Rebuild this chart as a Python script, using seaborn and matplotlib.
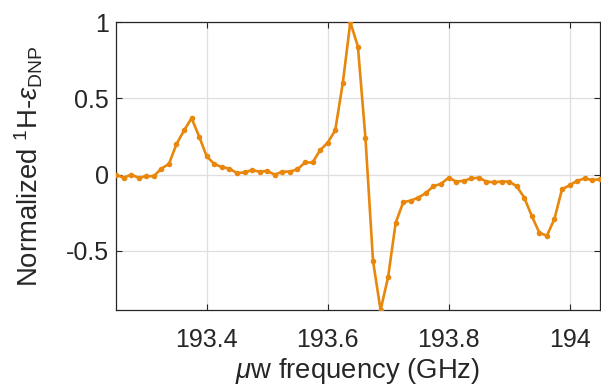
import numpy as np
import pandas as pd
import matplotlib
matplotlib.use("Agg")
import matplotlib.pyplot as plt
import seaborn as sns

freq_start = 193.25
freq_step = 0.0125
dnp = [0.0, -0.02, 0.0, -0.02, -0.01, -0.01, 0.04, 0.07, 0.20, 0.29,
       0.37, 0.25, 0.12, 0.07, 0.05, 0.04, 0.01, 0.015, 0.03, 0.02,
       0.025, 0.0, 0.02, 0.02, 0.035, 0.08, 0.08, 0.16, 0.21, 0.29,
       0.60, 1.0, 0.84, 0.24, -0.565, -0.887, -0.67, -0.315, -0.18, -0.17,
       -0.15, -0.12, -0.075, -0.06, -0.02, -0.045, -0.04, -0.025, -0.02, -0.045,
       -0.05, -0.045, -0.045, -0.075, -0.15, -0.27, -0.38, -0.40, -0.29, -0.095,
       -0.07, -0.04, -0.025, -0.035, -0.03]
freq = [round(freq_start + i * freq_step, 4) for i in range(len(dnp))]
xticks = [193.4, 193.6, 193.8, 194.0]
xticklabels = ["193.4", "193.6", "193.8", "194"]
yticks = [-0.5, 0, 0.5, 1]
yticklabels = ["-0.5", "0", "0.5", "1"]

df = pd.DataFrame({"freq": freq, "dnp": dnp})

sns.set_style("white")
plt.rcParams["font.family"] = ["Liberation Sans", "DejaVu Sans"]
plt.rcParams["mathtext.fontset"] = "custom"
plt.rcParams["mathtext.rm"] = "Liberation Sans"
plt.rcParams["mathtext.it"] = "Liberation Sans:italic"

fig = plt.figure(figsize=(6.01, 3.88), dpi=100)
ax = fig.add_axes([0.193, 0.201, 0.805, 0.742])
color = "#E8870C"
sns.lineplot(data=df, x="freq", y="dnp", ax=ax, color=color, lw=1.9,
             marker="o", markersize=4, markeredgewidth=0, zorder=3)
ax.set_xlim(193.25, 194.05)
ax.set_ylim(min(dnp), max(dnp))
ax.set_xticks(xticks)
ax.set_xticklabels(xticklabels)
ax.set_yticks(yticks)
ax.set_yticklabels(yticklabels)
ax.grid(True, color="#DFDFDF", lw=0.9)
ax.tick_params(axis="both", direction="in", length=4, labelsize=18, colors="#262626",
               top=True, right=True, bottom=True, left=True)
ax.tick_params(axis="y", pad=5)
ax.tick_params(axis="x", pad=13)
for lbl in ax.get_xticklabels() + ax.get_yticklabels():
    lbl.set_color("#262626")
for s in ax.spines.values():
    s.set_color("#262626")
    s.set_linewidth(0.9)
ax.set_xlabel(r"$\mu$w frequency (GHz)", fontsize=19.8, color="#262626", labelpad=3)
ax.set_ylabel(r"Normalized $^{1}$H-$\epsilon_{\mathrm{DNP}}$", fontsize=19.8, color="#262626", labelpad=15)
fig.savefig("out.png", dpi=100)
